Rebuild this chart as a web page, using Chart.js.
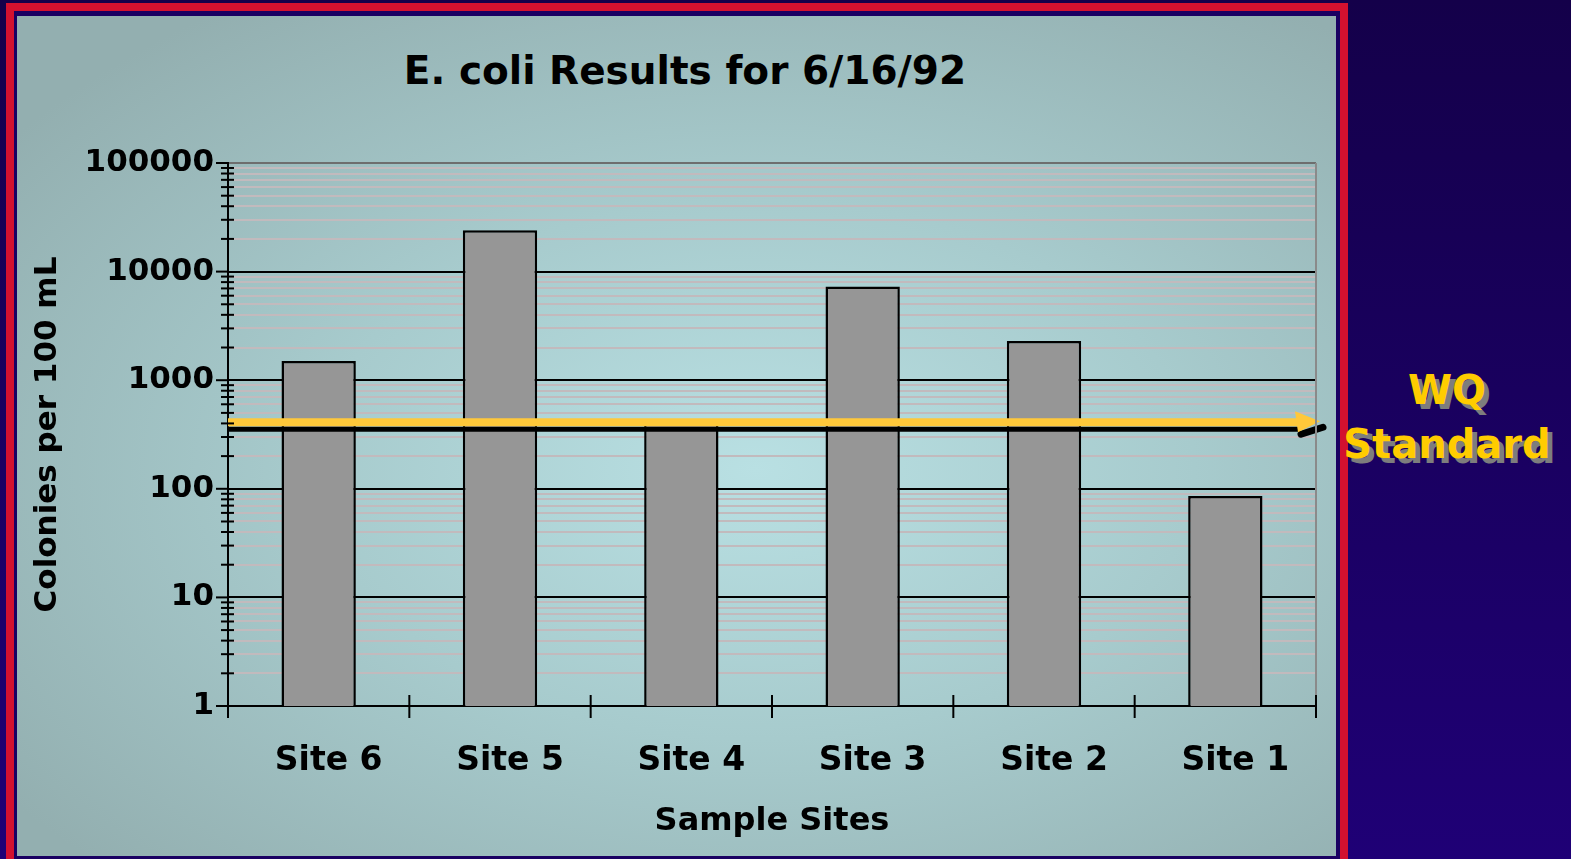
<!DOCTYPE html>
<html>
<head>
<meta charset="utf-8">
<script src="https://cdn.jsdelivr.net/npm/chart.js@4/dist/chart.umd.min.js"></script>
<style>
html, body { margin: 0; padding: 0; }
body {
  width: 1571px; height: 859px; overflow: hidden; position: relative;
  background: linear-gradient(180deg, #14004a 0%, #1f0076 100%);
  font-family: "DejaVu Sans", sans-serif;
}
#frame {
  position: absolute; left: 6px; top: 3px; width: 1342px; height: 880px;
  box-sizing: border-box; border: 8px solid #d3112f; background: #1a0062;
}
#panel {
  position: absolute; left: 17px; top: 16px; width: 1319px; height: 840px;
  background: radial-gradient(ellipse at 56% 54%, #b9e0e3 0%, #a7cbcd 42%, #93afb0 88%);
}
#title {
  position: absolute; left: 385px; width: 600px; top: 51px; text-align: center;
  font-weight: bold; font-size: 39px; line-height: 39px; color: #000; white-space: nowrap;
}
#wq {
  position: absolute; left: 1334px; width: 226px; top: 363px; text-align: center;
  font-weight: bold; font-size: 40px; line-height: 54px; color: #ffcc00;
  text-shadow: 5px 5px 0 #7d7d7d; white-space: nowrap;
}
#wrap { position: absolute; left: 0; top: 0; width: 1571px; height: 859px; }
canvas { position: absolute; left: 0; top: 0; }
</style>
</head>
<body>
<div id="frame"></div>
<div id="panel"></div>
<div id="title">E. coli Results for 6/16/92</div>
<div id="wq">WQ<br>Standard</div>
<div id="wrap"><canvas id="c" width="1571" height="859"></canvas></div>
<script>
// ---- data ----
const categories = ['Site 6', 'Site 5', 'Site 4', 'Site 3', 'Site 2', 'Site 1'];
const colonies = [1500, 24000, 400, 7300, 2300, 86];
const wqStandard = 410;
const yMajorTicks = [1, 10, 100, 1000, 10000, 100000];
const yMinorSteps = [2, 3, 4, 5, 6, 7, 8, 9];

const tickValues = [];
yMajorTicks.forEach((m, i) => {
  tickValues.push(m);
  if (i < yMajorTicks.length - 1) yMinorSteps.forEach(s => tickValues.push(m * s));
});

const FONT = '"DejaVu Sans", sans-serif';

const decor = {
  id: 'decor',
  afterDatasetsDraw(chart) {
    const ctx = chart.ctx;
    const ca = chart.chartArea;
    const y = chart.scales.y.getPixelForValue(wqStandard);
    const x0 = ca.left;
    const xEnd = ca.right + 4;
    ctx.save();
    ctx.lineCap = 'butt';
    // shadow
    ctx.strokeStyle = '#000';
    ctx.lineWidth = 5;
    ctx.beginPath(); ctx.moveTo(x0, y + 7); ctx.lineTo(xEnd - 20, y + 7); ctx.stroke();
    ctx.lineCap = 'round';
    ctx.lineWidth = 7;
    ctx.beginPath(); ctx.moveTo(xEnd - 19, y + 12); ctx.lineTo(xEnd + 3, y + 5); ctx.stroke();
    // yellow line
    ctx.lineCap = 'butt';
    ctx.strokeStyle = '#ffc83a';
    ctx.lineWidth = 8;
    ctx.beginPath(); ctx.moveTo(x0, y); ctx.lineTo(xEnd - 22, y); ctx.stroke();
    ctx.fillStyle = '#ffc83a';
    ctx.beginPath();
    ctx.moveTo(xEnd - 25, y - 11);
    ctx.lineTo(xEnd, y - 1);
    ctx.lineTo(xEnd - 22, y + 10);
    ctx.closePath();
    ctx.fill();
    ctx.restore();
  },
  afterDraw(chart) {
    const ctx = chart.ctx;
    const ca = chart.chartArea;
    const ys = chart.scales.y;
    const xs = chart.scales.x;
    ctx.save();
    // right border of plot
    ctx.strokeStyle = '#8a8a8a';
    ctx.lineWidth = 2;
    ctx.beginPath(); ctx.moveTo(ca.right, ca.top); ctx.lineTo(ca.right, ca.bottom - 10); ctx.stroke();
    // y ticks
    ctx.strokeStyle = '#000';
    ctx.lineWidth = 2;
    tickValues.forEach(v => {
      const py = ys.getPixelForValue(v);
      ctx.beginPath();
      if (yMajorTicks.includes(v)) { ctx.moveTo(ca.left - 12, py); ctx.lineTo(ca.left, py); }
      else { ctx.moveTo(ca.left - 7, py); ctx.lineTo(ca.left + 6, py); }
      ctx.stroke();
    });
    // x boundary ticks
    for (let i = 0; i <= categories.length; i++) {
      const px = xs.getPixelForValue(i - 0.5);
      ctx.beginPath(); ctx.moveTo(px, ca.bottom - 11); ctx.lineTo(px, ca.bottom + 12); ctx.stroke();
    }
    ctx.restore();
  }
};

new Chart(document.getElementById('c'), {
  type: 'bar',
  data: {
    labels: categories,
    datasets: [{
      data: colonies,
      backgroundColor: '#969696',
      borderColor: '#000',
      borderWidth: 2.5,
      categoryPercentage: 1.0,
      barPercentage: 0.41
    }]
  },
  options: {
    responsive: false,
    animation: false,
    devicePixelRatio: 1,
    layout: { padding: { left: 0, right: 255, top: 163, bottom: 0 } },
    plugins: { legend: { display: false }, tooltip: { enabled: false }, title: { display: false } },
    scales: {
      x: {
        type: 'category',
        z: 1,
        afterFit(s) { s.height = 153; },
        grid: { display: false, drawTicks: false },
        border: { display: true, color: '#000', width: 2 },
        ticks: {
          color: '#000', padding: 36, labelOffset: 10, maxRotation: 0,
          font: { family: FONT, size: 33, weight: 'bold' }
        },
        title: {
          display: true, text: 'Sample Sites', color: '#000',
          font: { family: FONT, size: 32, weight: 'bold' },
          padding: { top: 0, bottom: 18 }
        }
      },
      y: {
        type: 'logarithmic',
        min: 1, max: 100000,
        afterFit(s) { s.width = 228; },
        afterBuildTicks(s) {
          s.ticks = tickValues.map(v => ({ value: v, major: yMajorTicks.includes(v) }));
        },
        grid: {
          drawTicks: false,
          color(c) {
            const v = c.tick ? c.tick.value : 0;
            if (v === 100000) return '#6e6e6e';
            return yMajorTicks.includes(v) ? '#000' : '#c2babd';
          },
          lineWidth: 2
        },
        border: { display: true, color: '#000', width: 2 },
        ticks: {
          autoSkip: false, color: '#000', padding: 14,
          font: { family: FONT, size: 31, weight: 'bold' },
          callback(v) { return yMajorTicks.includes(v) ? String(v) : ''; }
        },
        title: {
          display: true, text: 'Colonies per 100 mL', color: '#000',
          font: { family: FONT, size: 31, weight: 'bold' },
          padding: { top: 29, bottom: 0 }
        }
      }
    }
  },
  plugins: [decor]
});
</script>
</body>
</html>
